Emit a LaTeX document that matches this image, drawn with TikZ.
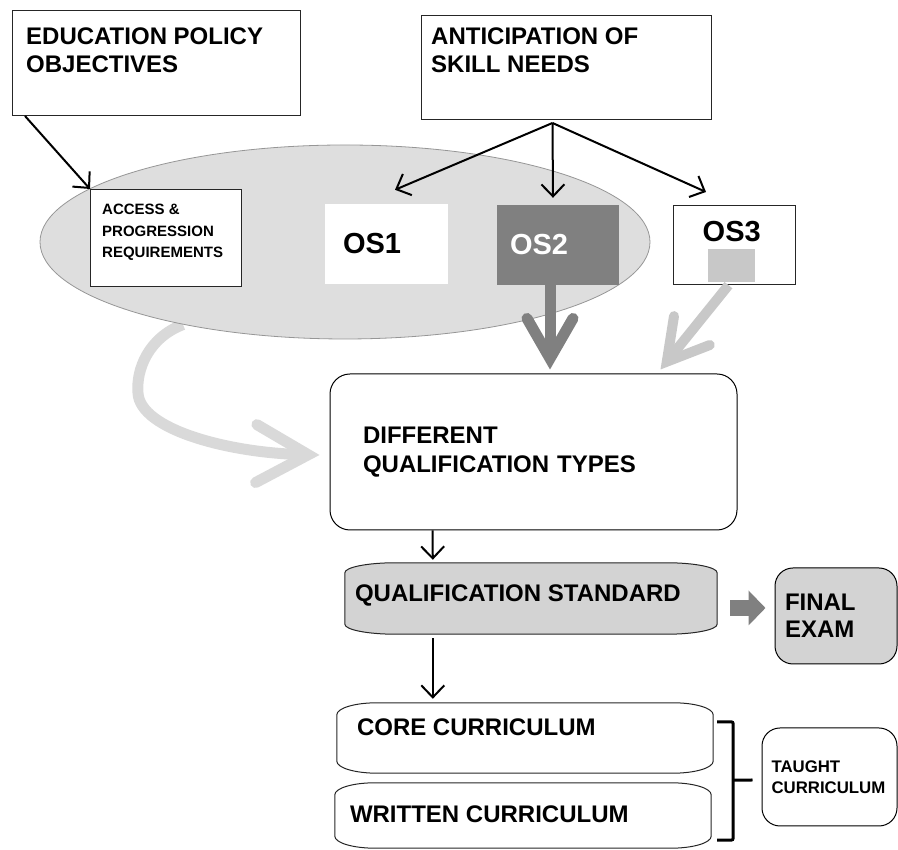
\documentclass[tikz,border=0pt]{standalone}
\usepackage{fontspec}
\setmainfont{Liberation Sans}
\usepackage{tikz}
\usetikzlibrary{arrows.meta, positioning, calc, shapes.geometric, backgrounds}
\definecolor{ovalgrey}{RGB}{222,222,222}
\definecolor{ovaledge}{RGB}{150,150,150}
\definecolor{midgrey}{RGB}{128,128,128}
\definecolor{boxgrey}{RGB}{211,211,211}
\definecolor{palegrey}{RGB}{200,200,200}
\definecolor{fadegrey}{RGB}{217,217,217}

% soft frame with flat elliptic corners round a node
\newcommand{\softframe}[3]{%
  ($(#1.north west)+(0,-#3)$)
  .. controls ($(#1.north west)+(0,-0.45*#3)$) and ($(#1.north west)+(0.45*#2,0)$) .. ($(#1.north west)+(#2,0)$)
  -- ($(#1.north east)+(-#2,0)$)
  .. controls ($(#1.north east)+(-0.45*#2,0)$) and ($(#1.north east)+(0,-0.45*#3)$) .. ($(#1.north east)+(0,-#3)$)
  -- ($(#1.south east)+(0,#3)$)
  .. controls ($(#1.south east)+(0,0.45*#3)$) and ($(#1.south east)+(-0.45*#2,0)$) .. ($(#1.south east)+(-#2,0)$)
  -- ($(#1.south west)+(#2,0)$)
  .. controls ($(#1.south west)+(0.45*#2,0)$) and ($(#1.south west)+(0,0.45*#3)$) .. ($(#1.south west)+(0,#3)$)
  -- cycle}

\tikzset{
  framebox/.style={draw=black!85, line width=1pt, fill=white, inner sep=0pt},
  softbox/.style={draw=black!85, line width=1pt},
  bigtxt/.style={font=\fontsize{24}{28}\selectfont\bfseries, align=left, inner sep=0pt},
  smalltxt/.style={font=\fontsize{15}{21.5}\selectfont\bfseries, align=left, inner sep=0pt},
  tinytxt/.style={font=\fontsize{16.8}{21.5}\selectfont\bfseries, align=left, inner sep=0pt},
  ostxt/.style={font=\fontsize{29}{32}\selectfont\bfseries, align=left},
  thinarrow/.style={line width=2pt, -{Straight Barb[length=12pt,width=23pt]}},
  heavyarrow/.style 2 args={line width=11pt, -{Straight Barb[length=#1,width=#2,line cap=round,line join=miter]}},
  blockarrow/.style={midgrey, line width=16pt, -{Triangle[length=17pt,width=34pt]}},
  bracketline/.style={line width=3pt, rounded corners=2pt}
}

\begin{document}
\begin{tikzpicture}[x=1pt,y=1pt]
  \useasboundingbox (0,0) rectangle (898,850);

  % inputs
  \node[framebox, minimum width=288pt, minimum height=105pt, anchor=north west] (edu) at (12,840) {};
  \node[bigtxt, below right=18pt and 14pt of edu.north west] (edutxt) {EDUCATION POLICY\\OBJECTIVES};
  \node[framebox, minimum width=290pt, minimum height=104pt, anchor=north west] (anticip) at (421,835) {};
  \node[bigtxt, below right=13pt and 10pt of anticip.north west] (anticiptxt) {ANTICIPATION OF\\SKILL NEEDS};

  % occupational standards
  \node[ellipse, draw=ovaledge, line width=0.8pt, fill=ovalgrey, minimum width=610pt, minimum height=194pt, inner sep=0pt] (osarea) at (345,608) {};
  \node[framebox, minimum width=151pt, minimum height=97pt, anchor=north west] (access) at (90,661) {};
  \node[smalltxt, below right=15pt and 12pt of access.north west] (accesstxt) {ACCESS \&\\PROGRESSION\\REQUIREMENTS};
  \node[ostxt, fill=white, minimum width=123pt, minimum height=80pt, text width=87pt, inner xsep=18pt] (os1) at (386.5,606) {OS1};
  \node[ostxt, fill=midgrey, text=white, minimum width=122pt, minimum height=80pt, text width=96pt, inner xsep=13pt] (os2) at (558,605) {OS2};
  \node[framebox, minimum width=122pt, minimum height=79pt] (os3) at (734,604.5) {};
  \node[ostxt, inner sep=0pt, below right=16pt and 30pt of os3.north west] (os3txt) {OS3};
  \node[fill=palegrey, minimum width=47pt, minimum height=33pt, inner sep=0pt] (os3mark) at (731.5,584.5) {};

  % qualification chain
  \node[bigtxt, font=\fontsize{24}{29.5}\selectfont\bfseries, draw, line width=1pt, rounded corners=20pt, minimum width=407pt, minimum height=156pt, text width=341pt, inner xsep=33pt] (diff) at (533.5,398) {DIFFERENT\\QUALIFICATION TYPES};
  \node[minimum width=372pt, minimum height=71pt, inner sep=0pt] (qs) at (531,251.5) {};
  \draw[softbox, fill=boxgrey] \softframe{qs}{50}{10};
  \node[bigtxt, below right=22pt and 10pt of qs.north west] (qstxt) {QUALIFICATION STANDARD};
  \node[bigtxt, font=\fontsize{24}{27}\selectfont\bfseries, draw, line width=1pt, fill=boxgrey, rounded corners=18pt, minimum width=122pt, minimum height=96pt, text width=102pt, inner xsep=10pt] (final) at (836,234) {FINAL\\EXAM};

  % curricula
  \node[minimum width=376pt, minimum height=70pt, inner sep=0pt] (core) at (525,112) {};
  \draw[softbox] \softframe{core}{40}{12};
  \node[bigtxt, below right=16pt and 20pt of core.north west] (coretxt) {CORE CURRICULUM};
  \node[minimum width=376pt, minimum height=65pt, inner sep=0pt] (written) at (523,34.5) {};
  \draw[softbox] \softframe{written}{40}{12};
  \node[bigtxt, below right=23pt and 15pt of written.north west] (writtentxt) {WRITTEN CURRICULUM};
  \node[tinytxt, draw, line width=1pt, rounded corners=18pt, minimum width=135pt, minimum height=98pt, text width=116pt, inner xsep=9.5pt] (taught) at (829.5,73) {TAUGHT\\CURRICULUM};

  % connectors
  \draw[thinarrow] ($(edu.south west)+(13,0)$) -- (access.north west);
  \coordinate (fork) at ($(anticip.south)+(-14,-3)$);
  \draw[thinarrow] (fork) -- ($(os1.north)+(8.5,14)$);
  \draw[thinarrow] (fork) -- ($(os2.north)+(-5,7)$);
  \draw[thinarrow] (fork) -- ($(os3.north)+(-28,13.5)$);
  \draw[heavyarrow={40pt}{46pt}, midgrey] ($(os2.south)+(-8,0)$) -- ($(os2.south |- diff.north)+(-8,4)$);
  \draw[heavyarrow={40pt}{46pt}, palegrey, line width=10pt] ($(os3mark.south)+(-3,-3)$) -- ($(diff.north east)+(-77,4)$);
  \begin{scope}[on background layer]
    \draw[heavyarrow={52pt}{58pt}, fadegrey] (osarea.207) .. controls (148,512) and (136,480) .. (138,457)
      .. controls (140,420) and (230,397) .. ($(diff.west)+(-10,-3)$);
  \end{scope}
  \draw[thinarrow] ($(diff.south west)+(103,0)$) -- ($(qs.north west)+(88,3)$);
  \draw[blockarrow] ($(qs.east)+(13,-9.5)$) -- ($(final.west)+(-9,8)$);
  \draw[thinarrow] ($(qs.south west)+(88,-4)$) -- ($(core.north west)+(96,4)$);

  % bracket to taught curriculum
  \draw[bracketline] ($(core.north east)+(4,-19)$) -| ($(written.south east)+(22,8)$) -- ($(written.south east)+(6,8)$);
  \coordinate (bracemid) at ($(written.south east)+(22,68)$);
  \draw[bracketline] (bracemid) -- ($(taught.west)+(-9,-3)$);
\end{tikzpicture}
\end{document}
